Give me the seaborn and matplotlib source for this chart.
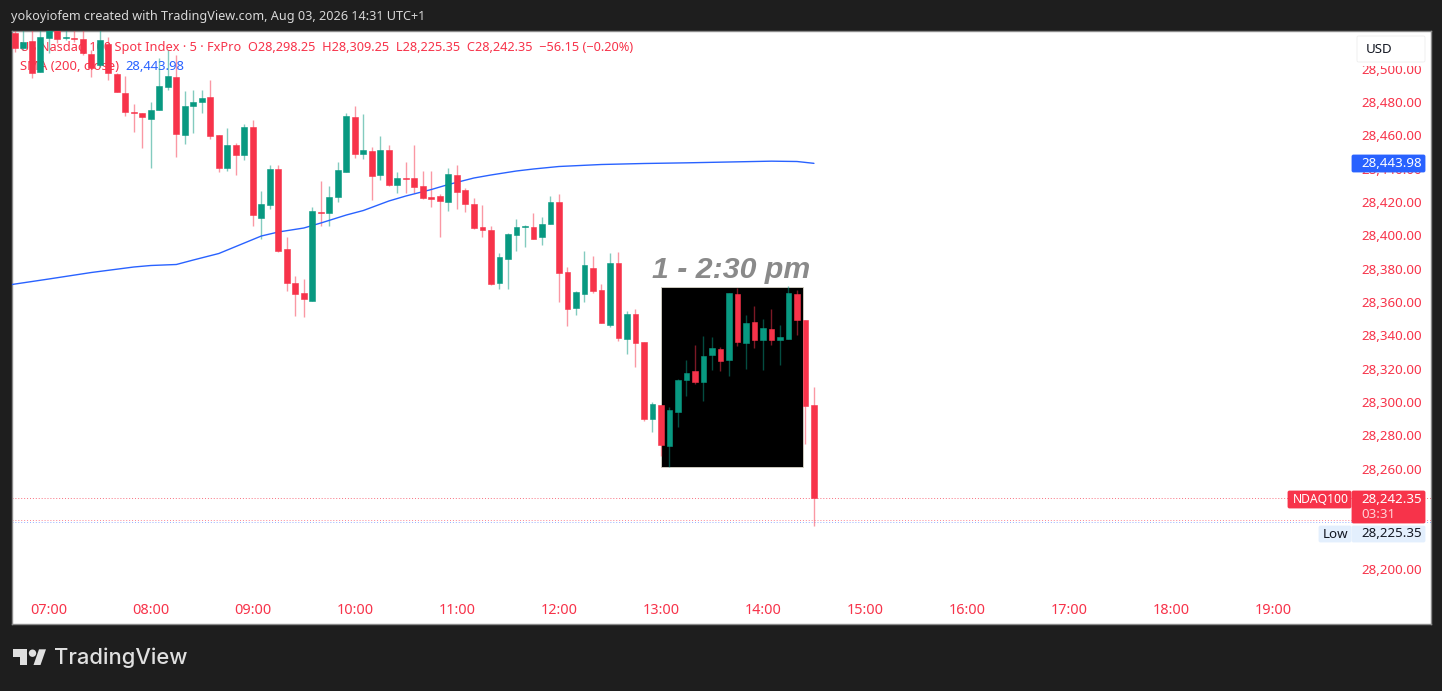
import numpy as np
import pandas as pd
import matplotlib
matplotlib.use("Agg")
import matplotlib.pyplot as plt
import seaborn as sns
from matplotlib.patches import Rectangle, FancyBboxPatch, Polygon, Circle

# ================================
# Data (5 minute candles, index 0 = 07:00)
# ================================
candle_idx = list(range(-4, 91))

opens = [28521.4, 28512.4, 28516.6, 28498.0, 28518.4, 28529.0, 28518.4, 28518.4, 28517.8, 28508.8,
         28502.2, 28514.8, 28496.8, 28485.4, 28474.3, 28473.4, 28469.8, 28475.2, 28489.0, 28495.0,
         28460.2, 28477.6, 28480.0, 28483.0, 28460.2, 28440.4, 28454.2, 28448.2, 28465.0, 28410.4,
         28418.2, 28439.8, 28391.8, 28371.4, 28365.4, 28360.6, 28414.0, 28413.4, 28423.0, 28438.0,
         28471.0, 28448.8, 28450.6, 28436.2, 28451.2, 28430.2, 28434.4, 28434.4, 28429.6, 28423.0,
         28423.6, 28420.0, 28436.2, 28427.2, 28418.8, 28405.0, 28403.2, 28371.4, 28385.8, 28400.2,
         28405.0, 28405.0, 28399.0, 28406.8, 28420.0, 28378.0, 28356.4, 28364.8, 28380.4, 28367.2,
         28346.2, 28383.4, 28337.8, 28352.8, 28336.0, 28289.8, 28298.2, 28273.6, 28294.0, 28313.2,
         28318.6, 28312.0, 28328.2, 28331.8, 28325.2, 28364.8, 28335.4, 28348.0, 28337.2, 28343.8,
         28337.2, 28337.8, 28364.8, 28349.2, 28298.25]
highs = [28526.0, 28526.0, 28525.0, 28527.0, 28530.0, 28532.0, 28526.0, 28526.0, 28526.0, 28511.2,
         28527.0, 28519.0, 28497.4, 28495.6, 28478.8, 28473.4, 28480.0, 28506.4, 28511.2, 28508.2,
         28486.6, 28487.2, 28487.2, 28493.2, 28460.2, 28464.4, 28455.4, 28466.8, 28469.2, 28426.6,
         28442.2, 28442.2, 28399.0, 28375.6, 28373.8, 28417.0, 28432.6, 28429.6, 28444.0, 28473.4,
         28477.6, 28472.8, 28453.0, 28459.6, 28454.2, 28438.0, 28444.0, 28454.2, 28438.6, 28438.6,
         28424.8, 28440.4, 28442.2, 28428.4, 28422.4, 28418.2, 28405.6, 28389.4, 28401.4, 28409.8,
         28406.2, 28413.4, 28411.0, 28423.6, 28424.8, 28381.0, 28366.6, 28390.6, 28387.6, 28370.8,
         28389.4, 28390.0, 28354.6, 28355.8, 28336.0, 28300.0, 28298.2, 28297.0, 28313.8, 28325.2,
         28334.2, 28339.6, 28339.0, 28333.0, 28365.4, 28368.4, 28352.2, 28357.6, 28349.8, 28355.8,
         28346.2, 28369.6, 28367.2, 28349.2, 28309.25]
lows = [28510.0, 28511.2, 28494.4, 28498.0, 28509.4, 28515.4, 28517.5, 28516.0, 28508.2, 28495.0,
        28501.0, 28493.2, 28486.0, 28471.6, 28462.0, 28452.4, 28440.4, 28475.2, 28487.2, 28447.0,
        28454.8, 28461.4, 28473.4, 28457.8, 28438.0, 28438.6, 28436.2, 28445.2, 28405.6, 28397.8,
        28415.8, 28390.0, 28366.6, 28351.6, 28351.0, 28360.6, 28405.6, 28405.6, 28420.0, 28438.0,
        28446.4, 28445.8, 28421.2, 28433.2, 28429.6, 28425.4, 28425.4, 28425.4, 28421.8, 28417.0,
        28399.0, 28414.6, 28415.8, 28414.0, 28403.8, 28399.0, 28370.2, 28367.8, 28367.8, 28390.6,
        28393.0, 28397.8, 28394.2, 28406.8, 28360.0, 28345.6, 28352.2, 28360.0, 28365.4, 28347.4,
        28345.0, 28336.6, 28328.8, 28321.0, 28288.6, 28282.0, 28267.6, 28261.0, 28285.0, 28303.6,
        28310.8, 28300.6, 28319.2, 28318.6, 28315.6, 28333.6, 28319.8, 28332.4, 28319.2, 28334.2,
        28322.2, 28337.8, 28340.2, 28274.8, 28225.35]
closes = [28512.4, 28516.0, 28497.4, 28519.0, 28528.0, 28517.8, 28519.0, 28518.0, 28509.4, 28500.4,
          28517.2, 28497.4, 28486.0, 28474.0, 28473.7, 28471.0, 28475.2, 28489.6, 28495.6, 28460.8,
          28477.6, 28480.0, 28482.4, 28459.6, 28440.4, 28454.2, 28448.2, 28465.0, 28412.2, 28418.8,
          28439.8, 28390.6, 28371.4, 28364.8, 28361.8, 28414.6, 28413.4, 28423.0, 28439.2, 28471.6,
          28448.8, 28451.2, 28435.6, 28451.2, 28430.2, 28434.4, 28434.0, 28429.0, 28422.4, 28421.8,
          28420.6, 28436.8, 28426.0, 28418.8, 28404.4, 28403.2, 28370.8, 28387.0, 28400.8, 28405.0,
          28405.6, 28397.8, 28406.8, 28420.0, 28377.4, 28355.8, 28366.0, 28382.2, 28366.6, 28347.4,
          28383.4, 28338.4, 28352.8, 28335.4, 28289.8, 28298.8, 28274.2, 28295.2, 28313.2, 28317.4,
          28312.0, 28327.6, 28332.4, 28324.6, 28365.4, 28336.0, 28347.4, 28337.2, 28344.4, 28337.2,
          28339.0, 28365.4, 28349.2, 28297.6, 28242.35]

sma_idx = [-5, 0, 5, 10, 12, 15, 17, 20, 22, 25, 27, 30, 32, 35, 37, 40, 42, 45, 47, 50, 52, 55, 57,
           60, 65, 70, 75, 80, 85, 88, 90]
sma_val = [28370.0, 28373.8, 28377.7, 28381.0, 28381.9, 28382.5, 28385.2, 28389.1, 28393.3, 28399.6,
           28402.0, 28404.4, 28407.4, 28412.2, 28414.9, 28420.6, 28423.6, 28427.5, 28430.5, 28434.4,
           28436.2, 28438.6, 28439.8, 28441.3, 28442.5, 28443.1, 28443.5, 28444.0, 28444.5, 28444.3, 28443.2]

y_ticks = [28200, 28260, 28280, 28300, 28320, 28340, 28360, 28380, 28400,
           28420, 28440, 28460, 28480, 28500]
x_tick_idx = [0, 12, 24, 36, 48, 60, 72, 84, 96, 108, 120, 132, 144]
x_tick_labels = ["07:00", "08:00", "09:00", "10:00", "11:00", "12:00", "13:00",
                 "14:00", "15:00", "16:00", "17:00", "18:00", "19:00"]

RED = "#f7334a"
GREEN = "#089981"
BLUE = "#2962ff"
DARK = "#1e1e1e"
FONT = "Noto Sans"

# ================================
# Figure and axes
# ================================
sns.set_theme(style="white")
plt.rcParams["font.family"] = [FONT, "DejaVu Sans"]

fig = plt.figure(figsize=(14.42, 6.91), dpi=100, facecolor=DARK)

ax = fig.add_axes([12 / 1442, 67 / 691, 1419 / 1442, 593 / 691], zorder=1)
ax.set_facecolor("white")
for s in ax.spines.values():
    s.set_color("#8a8a8a")
    s.set_linewidth(1)

# pixel overlay for the price labels and the frame around the chart
over = fig.add_axes([0, 0, 1, 1], zorder=2)
over.set_xlim(0, 1442)
over.set_ylim(691, 0)
over.axis("off")

df = pd.DataFrame({"i": candle_idx, "o": opens, "h": highs, "l": lows, "c": closes})
df["up"] = df["c"] >= df["o"]
df["color"] = np.where(df["up"], GREEN, RED)

# session highlight box
ax.add_patch(Rectangle((72, 28261), 16.7, 108, facecolor="black", edgecolor="#d8d4c8",
                       linewidth=0.6, zorder=2))
ax.text(71.0, 28379, "1 - 2:30 pm", color="#8a8a8a", fontsize=21.8, fontweight="bold",
        fontstyle="italic", family="Liberation Sans", va="center", ha="left", zorder=4)

# reference lines
ax.axhline(28242.35, color=RED, lw=0.7, ls=(0, (1, 2)), alpha=0.7, zorder=1)
ax.axhline(28229.5, color=RED, lw=0.7, ls=(0, (1, 2)), alpha=0.6, zorder=1)
ax.axhline(28228.2, color=BLUE, lw=0.7, ls=(0, (1, 2)), alpha=0.5, zorder=1)

# legend text sits under the candles
legend_kw = dict(va="center", ha="left", zorder=2, transform=fig.transFigure)
ax.text(20 / 1442, 1 - 47 / 691,
        "US Nasdaq 100 Spot Index · 5 · FxPro  O28,298.25  H28,309.25  L28,225.35  C28,242.35  −56.15 (−0.20%)",
        color=RED, fontsize=9.2, **legend_kw)
ax.text(20 / 1442, 1 - 66 / 691, "SMA (200, close)", color=RED, fontsize=9.4, **legend_kw)
ax.text(125 / 1442, 1 - 66 / 691, "28,443.98", color=BLUE, fontsize=9.4, **legend_kw)

# candles
ax.vlines(df["i"], df["l"], df["h"], colors=df["color"], linewidth=1.0, alpha=0.5, zorder=3)
ax.bar(df["i"], (df["c"] - df["o"]).abs(), bottom=df[["o", "c"]].min(axis=1), width=0.68,
       color=df["color"], edgecolor=df["color"], linewidth=0.4, zorder=4)

# SMA line
sma_df = pd.DataFrame({"i": sma_idx, "sma": sma_val})
sns.lineplot(data=sma_df, x="i", y="sma", color=BLUE, linewidth=1.0, errorbar=None, ax=ax, zorder=3)

ax.set_xlim(-4.33, 162.58)
ax.set_ylim(28166.8, 28522.6)
ax.set_xlabel("")
ax.set_ylabel("")

ax.yaxis.tick_right()
ax.set_yticks(y_ticks)
ax.set_yticklabels([f"{v:,.2f}" for v in y_ticks])
ax.tick_params(axis="y", length=0, pad=-50.4, labelsize=9.6, labelcolor=RED)
ax.set_xticks(x_tick_idx)
ax.set_xticklabels(x_tick_labels)
ax.tick_params(axis="x", length=0, pad=-15, labelsize=10.4, labelcolor=RED)
for lab in ax.get_yticklabels():
    lab.set_horizontalalignment("left")

# ================================
# Price labels on the right
# ================================
def box(x0, y0, x1, y1, color, edge=None):
    over.add_patch(FancyBboxPatch((x0 + 1.5, y0 + 1.5), x1 - x0 - 3, y1 - y0 - 3,
                                  boxstyle="round,pad=1.5", facecolor=color,
                                  edgecolor=edge or color, linewidth=0.6))

label = dict(fontsize=9.6, va="center", ha="left")

over.add_patch(Rectangle((1357, 60), 68, 6, facecolor="white", edgecolor="none"))
box(1357, 36, 1425, 62, "white", "#eeeeee")
over.text(1366, 49, "USD", color="#131722", **label)

box(1352, 155, 1425, 172, BLUE)
over.text(1361, 163, "28,443.98", color="white", **label)

box(1288, 491, 1351, 508, RED)
over.text(1293, 499.5, "NDAQ100", color="white", fontsize=8.7, va="center", ha="left")
box(1352, 491, 1425, 523, RED)
over.text(1361, 499, "28,242.35", color="white", **label)
over.text(1361, 514, "03:31", color="#ffd0d6", **label)

box(1319, 526, 1351, 542, "#e3effd")
over.text(1323, 534.5, "Low", color="#131722", **label)
box(1352, 526, 1425, 542, "#e3effd")
over.text(1361, 533.5, "28,225.35", color="#131722", **label)

# ================================
# Header and footer
# ================================
over.text(11, 16, "yokoyiofem created with TradingView.com, Aug 03, 2026 14:31 UTC+1",
          color="#d8d8d8", fontsize=9.1, va="center", ha="left")

LOGO = "#e0e0e0"
over.add_patch(Polygon([(13.3, 649.3), (26.7, 649.3), (26.7, 665), (20, 665), (20, 656.7), (13.3, 656.7)],
                       closed=True, facecolor=LOGO, edgecolor="none"))
over.add_patch(Circle((32.5, 653.2), 3.7, facecolor=LOGO, edgecolor="none"))
over.add_patch(Polygon([(39, 649.3), (46, 649.3), (40.5, 665), (33.5, 665)],
                       closed=True, facecolor=LOGO, edgecolor="none"))
over.text(54, 658, "TradingView", color=LOGO, fontsize=15.8, family="Inter", fontweight="medium",
          va="center", ha="left")

fig.savefig("out.png", dpi=100, facecolor=DARK)
